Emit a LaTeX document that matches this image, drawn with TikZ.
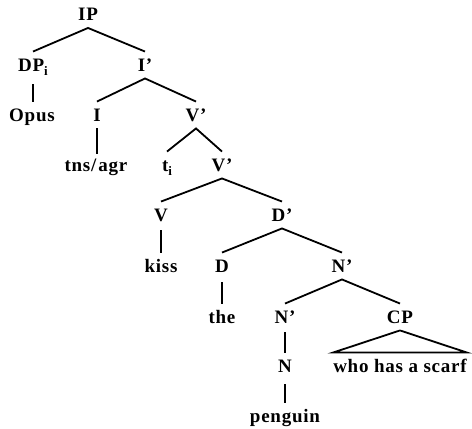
\documentclass[tikz,border=0pt]{standalone}
\usepackage{fontspec}
\setmainfont{Liberation Serif}[LetterSpace=4]
\newcommand{\subi}{\raisebox{-4pt}{\fontsize{13}{13}\selectfont i}}
\begin{document}
\begin{tikzpicture}[x=1pt,y=-1pt,
  lab/.style={font=\fontsize{19}{21}\selectfont\bfseries, inner xsep=0pt, inner ysep=7pt,
              text height=12.5pt, text depth=0pt, anchor=center},
  edge/.style={line width=1.8pt, line cap=butt}]
\useasboundingbox (0,0) rectangle (472,429);
% nodes
\node[lab] (ip)   at (88,14.5)  {IP};
\node[lab] (dp)   at (33,65)    {DP\subi};
\node[lab] (ib)   at (145,65)   {I'};
\node[lab] (opus) at (32,115)   {Opus};
\node[lab] (i)    at (97,115)   {I};
\node[lab] (vb1)  at (196,115)  {V'};
\node[lab] (tns)  at (96,165)   {tns/\kern2pt agr};
\node[lab] (ti)   at (167,165)  {t\subi};
\node[lab] (vb2)  at (222,165)  {V'};
\node[lab] (v)    at (161,215)  {V};
\node[lab] (db)   at (282,215)  {D'};
\node[lab] (kiss) at (161,266)  {kiss};
\node[lab] (d)    at (222,266)  {D};
\node[lab] (nb1)  at (342,266)  {N'};
\node[lab] (the)  at (222,317)  {the};
\node[lab] (nb2)  at (285,317)  {N'};
\node[lab] (cp)   at (400,317)  {CP};
\node[lab] (n)    at (285,366)  {N};
\node[lab] (whs)  at (400,366)  {who has a scarf};
\node[lab] (peng) at (285,416)  {penguin};
% edges
\draw[edge] (dp.north) -- (ip.south) -- (ib.north);
\draw[edge] (dp.south) ++(0,6) -- (dp.south |- opus.north);
\draw[edge] (i.north) -- (ib.south) -- (vb1.north);
\draw[edge] (i.south) -- ([yshift=-2pt]i.south |- tns.north);
\draw[edge] (ti.north) -- (vb1.south) -- (vb2.north);
\draw[edge] (v.north) -- (vb2.south) -- (db.north);
\draw[edge] (v.south) ++(0,2) -- (v.south |- kiss.north);
\draw[edge] (d.north) -- (db.south) -- (nb1.north);
\draw[edge] (d.south) ++(0,3) -- (the.north);
\draw[edge] (nb2.north) -- (nb1.south) -- (cp.north);
\draw[edge] (nb2.south) ++(0,2) -- (n.north);
\draw[edge] (n.south) ++(0,5) -- (peng.north);
\draw[edge, line join=miter] (cp.south) -- (whs.north west) -- (whs.north east) -- cycle;
\end{tikzpicture}
\end{document}
